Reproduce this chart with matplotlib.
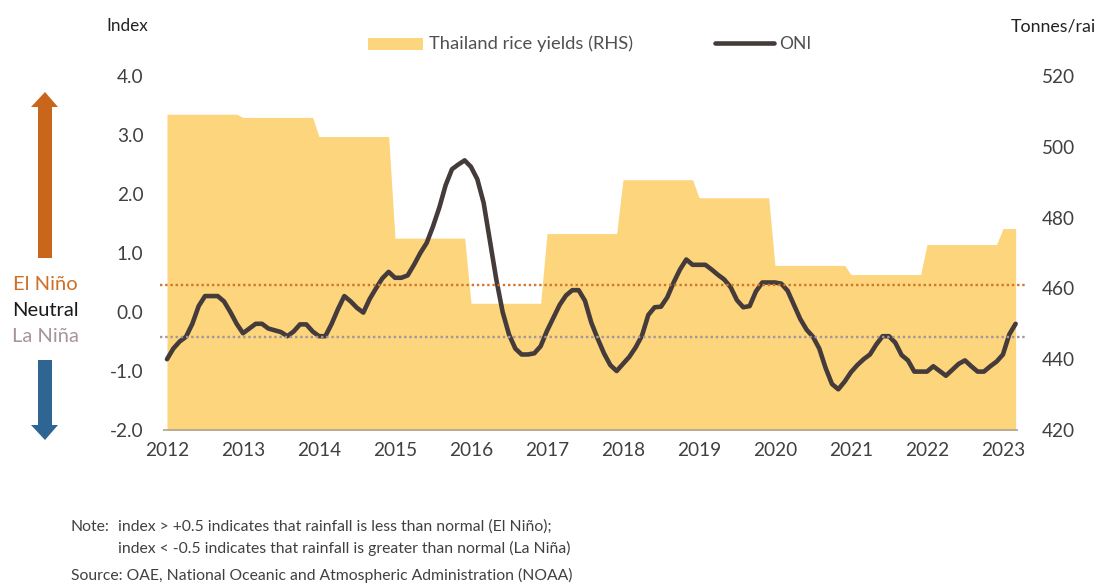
import matplotlib
matplotlib.use("Agg")
import matplotlib.pyplot as plt
from matplotlib.patches import Polygon, Rectangle
from matplotlib.lines import Line2D

# ==========================================
# Data
# ==========================================

years = ["2012", "2013", "2014", "2015", "2016", "2017",
         "2018", "2019", "2020", "2021", "2022", "2023"]

# Thailand rice yields (RHS), one value per year
rice_yield = [509.2, 508.3, 502.9, 474.2, 455.8, 475.5,
              490.7, 485.6, 466.5, 463.9, 472.4, 476.9]

# Oceanic Nino Index, monthly Jan 2012 - Mar 2023
oni = [
    -0.80, -0.62, -0.50, -0.42, -0.20, 0.10, 0.27, 0.27, 0.27, 0.18, 0.00, -0.20,
    -0.36, -0.28, -0.20, -0.20, -0.28, -0.31, -0.34, -0.41, -0.33, -0.21, -0.21, -0.33,
    -0.41, -0.41, -0.20, 0.05, 0.27, 0.18, 0.07, -0.01, 0.22, 0.40, 0.57, 0.68,
    0.58, 0.58, 0.62, 0.80, 1.00, 1.17, 1.45, 1.77, 2.15, 2.42, 2.50, 2.57,
    2.46, 2.25, 1.85, 1.20, 0.55, 0.00, -0.38, -0.62, -0.72, -0.72, -0.70, -0.58,
    -0.32, -0.10, 0.12, 0.28, 0.37, 0.37, 0.19, -0.18, -0.45, -0.70, -0.90, -1.00,
    -0.88, -0.76, -0.60, -0.40, -0.05, 0.08, 0.09, 0.25, 0.50, 0.72, 0.89, 0.80,
    0.80, 0.80, 0.72, 0.63, 0.55, 0.42, 0.20, 0.08, 0.10, 0.35, 0.50, 0.50,
    0.50, 0.48, 0.36, 0.12, -0.12, -0.30, -0.42, -0.62, -0.95, -1.22, -1.31, -1.18,
    -1.02, -0.90, -0.80, -0.72, -0.55, -0.41, -0.41, -0.52, -0.73, -0.82, -1.01, -1.01,
    -1.01, -0.92, -1.00, -1.08, -0.98, -0.88, -0.82, -0.92, -1.01, -1.01, -0.92, -0.84,
    -0.72, -0.38, -0.20,
]

el_nino_level = 0.45
la_nina_level = -0.43

months = list(range(len(oni)))

# ==========================================
# Colours
# ==========================================

FILL = "#FCD57C"
LINE = "#463B3B"
ORANGE = "#D4752B"
MAUVE = "#A3959D"
TEXT = "#404040"

plt.rcParams["font.family"] = ["Lato", "DejaVu Sans"]

W, H = 1098, 583
fig = plt.figure(figsize=(W / 100, H / 100), dpi=100)


def px(x, y):
    return (x / W, 1 - y / H)


ax = fig.add_axes([160 / W, (H - 430) / H, (1025 - 160) / W, (430 - 76) / H])
ax2 = ax.twinx()
ax.set_zorder(ax2.get_zorder() + 1)
ax.patch.set_visible(False)

x_min = (160 - 167) / 6.333
x_max = (1025 - 167) / 6.333

# ==========================================
# Rice yields area (RHS)
# ==========================================

last = months[-1]
area_x = []
area_y = []
for i, v in enumerate(rice_yield):
    start = 12 * i
    end = min(12 * i + 11, last)
    area_x += [start, end]
    area_y += [v, v]

ax2.fill_between(area_x, 420, area_y, color=FILL, linewidth=0)
ax2.set_ylim(420, 520)
ax2.set_yticks(range(420, 521, 20))
ax2.set_yticklabels([str(v) for v in range(420, 521, 20)])

# ==========================================
# ONI line and thresholds
# ==========================================

ax.plot(months, oni, color=LINE, lw=3.3, solid_joinstyle="round",
        solid_capstyle="round", zorder=3)

ax.axhline(el_nino_level, color=ORANGE, lw=1.7, linestyle=(0, (1, 1.2)), zorder=4)
ax.axhline(la_nina_level, color=MAUVE, lw=1.7, linestyle=(0, (1, 1.2)), zorder=4)
ax.hlines(-2, -0.6, last + 0.4, color="#B0A292", lw=1.2, zorder=2, clip_on=False)

ax.set_xlim(x_min, x_max)
ax.set_ylim(-2, 4)

ax.set_xticks(range(0, 12 * len(years), 12))
ax.set_xticklabels(years)

y_ticks = [-2, -1, 0, 1, 2, 3, 4]
ax.set_yticks(y_ticks)
ax.set_yticklabels([f"{v:.1f}".replace("\u2212", "-") for v in y_ticks])

for a in (ax, ax2):
    for s in a.spines.values():
        s.set_visible(False)

ax.tick_params(axis="both", length=0, labelsize=13.7, labelcolor=TEXT)
ax.tick_params(axis="y", pad=12)
ax.tick_params(axis="x", pad=9)
ax2.tick_params(axis="y", length=0, labelsize=13.7, labelcolor=TEXT, pad=12)

# ==========================================
# Axis titles and legend
# ==========================================

fig.text(*px(106, 26), "Index", fontsize=12.3, color="#222222", va="center", ha="left")
fig.text(*px(1011, 26), "Tonnes/rai", fontsize=12.8, color="#222222", va="center", ha="left")

fig.patches.append(Rectangle(px(368, 50), 55 / W, 12 / H, transform=fig.transFigure,
                             facecolor=FILL, edgecolor="none"))
fig.text(*px(429, 44), "Thailand rice yields (RHS)", fontsize=13.2, color="#505050", va="center")
fig.lines.append(Line2D([715 / W, 774 / W], [1 - 43 / H, 1 - 43 / H],
                        transform=fig.transFigure, color=LINE, lw=3.3,
                        solid_capstyle="round"))
fig.text(*px(779, 44), "ONI", fontsize=12.5, color="#505050", va="center")

# ==========================================
# El Nino / La Nina side labels and arrows
# ==========================================

up = [(38, 258), (52, 258), (52, 107), (58, 107), (45, 92), (31, 107), (38, 107)]
down = [(38, 360), (52, 360), (52, 425), (58, 425), (45, 440), (31, 425), (38, 425)]
fig.patches.append(Polygon([px(x, y) for x, y in up], closed=True,
                           transform=fig.transFigure, facecolor="#C9661C", edgecolor="none"))
fig.patches.append(Polygon([px(x, y) for x, y in down], closed=True,
                           transform=fig.transFigure, facecolor="#2F6592", edgecolor="none"))

fig.text(*px(45, 285), "El Niño", fontsize=14.5, color="#CF6E25", ha="center", va="center")
fig.text(*px(45, 311), "Neutral", fontsize=14.5, color="#1A1A1A", ha="center", va="center")
fig.text(*px(45, 337), "La Niña", fontsize=14.5, color="#A7949C", ha="center", va="center")

# ==========================================
# Notes
# ==========================================

fig.text(*px(71, 527), "Note:", fontsize=11.3, color=TEXT, va="center")
fig.text(*px(118, 527), "index > +0.5 indicates that rainfall is less than normal (El Niño);",
         fontsize=11.3, color=TEXT, va="center")
fig.text(*px(118, 548), "index < -0.5 indicates that rainfall is greater than normal (La Niña)",
         fontsize=11.3, color=TEXT, va="center")
fig.text(*px(71, 575), "Source: OAE, National Oceanic and Atmospheric Administration (NOAA)",
         fontsize=11.3, color=TEXT, va="center")

fig.savefig("out.png", dpi=100)
